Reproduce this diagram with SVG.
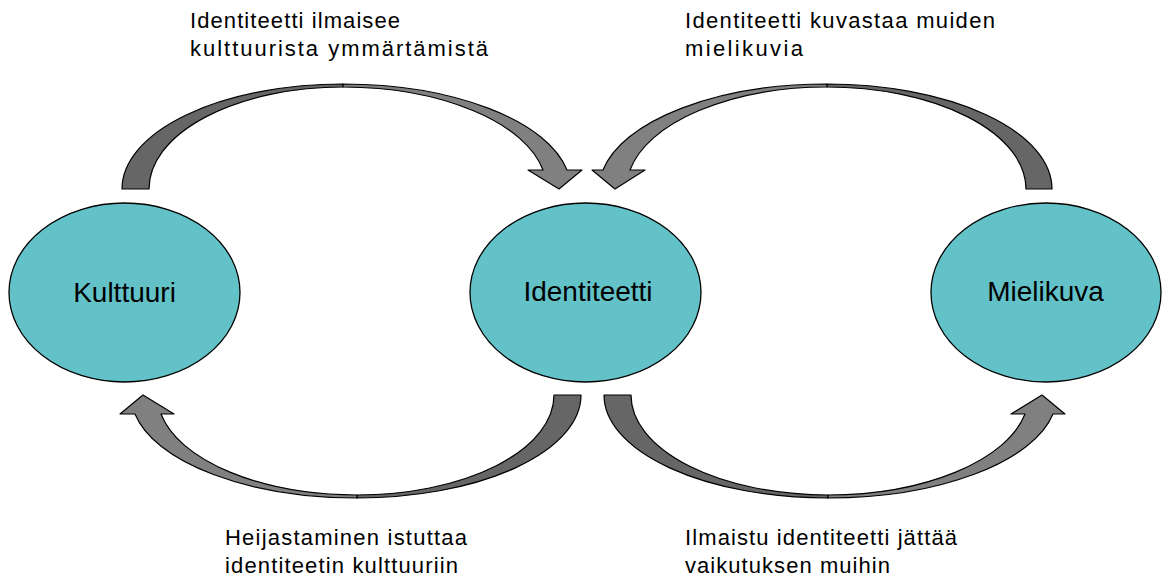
<svg xmlns="http://www.w3.org/2000/svg" width="1165" height="579" viewBox="0 0 1165 579">
<style>
.node{fill:#63c2c7;stroke:#000;stroke-width:1.3}
.nt{font-family:"Liberation Sans",Arial,sans-serif;font-size:28px;fill:#000;text-anchor:middle}
.lbl{font-family:"Liberation Sans",Arial,sans-serif;font-size:22px;fill:#000}
.dark{fill:#666;stroke:#000;stroke-width:1.2;stroke-linejoin:round}
.light{fill:#808080;stroke:#000;stroke-width:1.2;stroke-linejoin:round}
</style>
<rect width="1165" height="579" fill="#fff"/>
<g id="connectors">
<g id="arrow-kulttuuri-identiteetti">
<path class="dark" d="M122,189 A221,105 0 0 1 343,84 L343,87 A194,102 0 0 0 149,189 Z"/>
<path class="light" d="M343,84 A228,105 0 0 1 567,170 L582,170 L559,189 L528,170 L543,170 A204,102 0 0 0 343,87 Z"/>
</g>
<g id="arrow-mielikuva-identiteetti">
<path class="dark" d="M1052,189 A225,105 0 0 0 827,84 L827,87 A199,102 0 0 1 1026,189 Z"/>
<path class="light" d="M827,84 A228,105 0 0 0 603,170 L592,170 L615,189 L645,170 L630,170 A201,102 0 0 1 827,87 Z"/>
</g>
<g id="arrow-identiteetti-kulttuuri">
<path class="dark" d="M581,395 A224,103 0 0 1 357,498 L357,495 A197,100 0 0 0 554,395 Z"/>
<path class="light" d="M357,498 A226,103 0 0 1 135,414 L120,414 L143,395 L174,414 L161,414 A200,100 0 0 0 357,495 Z"/>
</g>
<g id="arrow-identiteetti-mielikuva">
<path class="dark" d="M604,395 A224,103 0 0 0 828,498 L828,495 A197,100 0 0 1 631,395 Z"/>
<path class="light" d="M828,498 A229,103 0 0 0 1053,414 L1065,414 L1042,395 L1011,414 L1025,414 A201,100 0 0 1 828,495 Z"/>
</g>
</g>
<g id="kulttuuri">
<ellipse class="node" cx="124.5" cy="292.5" rx="115.5" ry="89.5"/>
<text class="nt" x="124.5" y="302">Kulttuuri</text>
</g>
<g id="identiteetti">
<ellipse class="node" cx="585.5" cy="292.5" rx="115.5" ry="89.5"/>
<text class="nt" x="588" y="301">Identiteetti</text>
</g>
<g id="mielikuva">
<ellipse class="node" cx="1046" cy="292.5" rx="115" ry="89.5"/>
<text class="nt" x="1045.5" y="301">Mielikuva</text>
</g>
<g id="labels">
<text class="lbl" x="190" y="28" textLength="210" lengthAdjust="spacing">Identiteetti ilmaisee</text>
<text class="lbl" x="190" y="56" textLength="298" lengthAdjust="spacing">kulttuurista ymmärtämistä</text>
<text class="lbl" x="685" y="28" textLength="310" lengthAdjust="spacing">Identiteetti kuvastaa muiden</text>
<text class="lbl" x="685" y="56" textLength="118" lengthAdjust="spacing">mielikuvia</text>
<text class="lbl" x="225" y="545" textLength="242" lengthAdjust="spacing">Heijastaminen istuttaa</text>
<text class="lbl" x="225" y="573" textLength="233" lengthAdjust="spacing">identiteetin kulttuuriin</text>
<text class="lbl" x="685" y="545" textLength="272" lengthAdjust="spacing">Ilmaistu identiteetti jättää</text>
<text class="lbl" x="685" y="573" textLength="205" lengthAdjust="spacing">vaikutuksen muihin</text>
</g>
</svg>
